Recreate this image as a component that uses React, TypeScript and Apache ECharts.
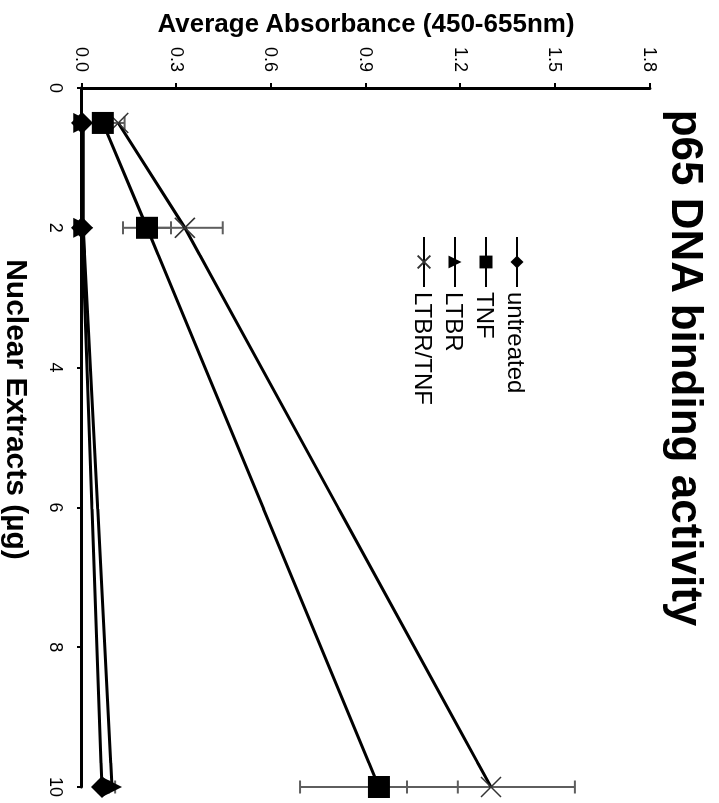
import React, { useEffect, useRef } from "react";
import * as echarts from "echarts";

// Nuclear extract amounts (µg)
const extracts = [0.5, 2, 10];
// Average absorbance (450-655nm) per treatment
const untreated = [0.0, 0.0, 0.063];
const untreatedErr = [0.004, 0.004, 0.01];
const tnf = [0.066, 0.206, 0.941];
const tnfErr = [0.01, 0.076, 0.25];
const ltbr = [0.004, 0.004, 0.095];
const ltbrErr = [0.004, 0.004, 0.01];
const ltbrTnf = [0.115, 0.326, 1.296];
const ltbrTnfErr = [0.02, 0.12, 0.266];

const seriesNames = ["untreated", "TNF", "LTBR", "LTBR/TNF"];
const xTickValues = [0, 2, 4, 6, 8, 10];
const yTickLabels = ["0.0", "0.3", "0.6", "0.9", "1.2", "1.5", "1.8"];

const FONT = "'Liberation Sans', Arial, Helvetica, sans-serif";

function errSeries(name: string, vals: number[], errs: number[]) {
  return {
    type: "custom",
    name: name + " error",
    z: 1,
    silent: true,
    encode: { x: 0, y: 1 },
    data: extracts.map((x, i) => [x, vals[i] - errs[i], vals[i] + errs[i]]),
    renderItem: (params: any, api: any) => {
      const lo = api.coord([api.value(0), api.value(1)]);
      const hi = api.coord([api.value(0), api.value(2)]);
      const w = 6.5;
      const style = { stroke: "#5e5e5e", lineWidth: 2 };
      return {
        type: "group",
        children: [
          { type: "line", shape: { x1: lo[0], y1: lo[1], x2: hi[0], y2: hi[1] }, style },
          { type: "line", shape: { x1: lo[0] - w, y1: lo[1], x2: lo[0] + w, y2: lo[1] }, style },
          { type: "line", shape: { x1: hi[0] - w, y1: hi[1], x2: hi[0] + w, y2: hi[1] }, style },
        ],
      };
    },
  };
}

function lineSeries(name: string, vals: number[], symbol: string, size: number, z: number, extraItem?: any) {
  return {
    type: "line",
    name,
    z,
    data: extracts.map((x, i) => [x, vals[i]]),
    symbol,
    symbolSize: size,
    showAllSymbol: true,
    lineStyle: { color: "#000", width: 3 },
    itemStyle: Object.assign({ color: "#000" }, extraItem || {}),
    emphasis: { disabled: true },
  };
}

export default function App() {
  const ref = useRef<HTMLDivElement>(null);
  useEffect(() => {
    if (!ref.current) return;
    const chart = echarts.init(ref.current, undefined, { renderer: "svg" });
    const crossPath = "path://M0,0L20,20M20,0L0,20";
    chart.setOption({
      animation: false,
      backgroundColor: "#fff",
      grid: { left: 88, right: 16, top: 69, bottom: 82, containLabel: false, outerBoundsMode: "none" },
      graphic: [
        {
          type: "text",
          x: 368,
          y: 31,
          style: {
            text: "p65 DNA binding activity",
            fontSize: 44,
            fontWeight: "bold",
            fontFamily: FONT,
            fill: "#000",
            align: "center",
            verticalAlign: "middle",
          },
        },
      ],
      legend: {
        orient: "vertical",
        left: 231,
        top: 185,
        itemWidth: 50,
        itemHeight: 16,
        itemGap: 7,
        data: seriesNames,
        textStyle: { fontSize: 24, color: "#000", fontFamily: FONT },
      },
      xAxis: {
        type: "value",
        min: xTickValues[0],
        max: xTickValues[xTickValues.length - 1],
        interval: xTickValues[1] - xTickValues[0],
        name: "Nuclear Extracts (µg)",
        nameLocation: "middle",
        nameGap: 49,
        nameTextStyle: { fontSize: 30, fontWeight: "bold", color: "#000", fontFamily: FONT, padding: [0, 56, 0, 0] },
        axisLine: { show: true, lineStyle: { color: "#000", width: 3 } },
        axisTick: { show: true, length: 5, lineStyle: { color: "#000", width: 2 } },
        axisLabel: { fontSize: 18, color: "#000", fontFamily: FONT, margin: 17 },
        splitLine: { show: false },
      },
      yAxis: {
        type: "value",
        min: 0,
        max: 1.8,
        interval: 0.3,
        name: "Average Absorbance (450-655nm)",
        nameLocation: "middle",
        nameGap: 46,
        nameTextStyle: { fontSize: 26, fontWeight: "bold", color: "#000", fontFamily: FONT },
        axisLine: { show: true, lineStyle: { color: "#000", width: 3 } },
        axisTick: { show: true, length: 5, lineStyle: { color: "#000", width: 2 } },
        axisLabel: {
          fontSize: 18,
          color: "#000",
          fontFamily: FONT,
          margin: 16,
          formatter: (v: number) => yTickLabels[Math.round(v / 0.3)] ?? v.toFixed(1),
        },
        splitLine: { show: false },
      },
      series: [
        errSeries("untreated", untreated, untreatedErr),
        errSeries("TNF", tnf, tnfErr),
        errSeries("LTBR", ltbr, ltbrErr),
        errSeries("LTBR/TNF", ltbrTnf, ltbrTnfErr),
        lineSeries("untreated", untreated, "diamond", 22, 4),
        lineSeries("TNF", tnf, "rect", 22, 3),
        lineSeries("LTBR", ltbr, "triangle", 20, 3),
        lineSeries("LTBR/TNF", ltbrTnf, crossPath, 20, 2, {
          color: "rgba(0,0,0,0)",
          borderColor: "#333",
          borderWidth: 1.5,
        }),
      ],
    });
    return () => chart.dispose();
  }, []);
  return (
    <div
      style={{
        position: "fixed",
        left: 0,
        top: 0,
        width: 803,
        height: 719,
        transformOrigin: "0 0",
        transform: "translate(719px, 0px) rotate(90deg)",
        background: "#fff",
      }}
    >
      <div ref={ref} style={{ width: 803, height: 719 }} />
    </div>
  );
}
